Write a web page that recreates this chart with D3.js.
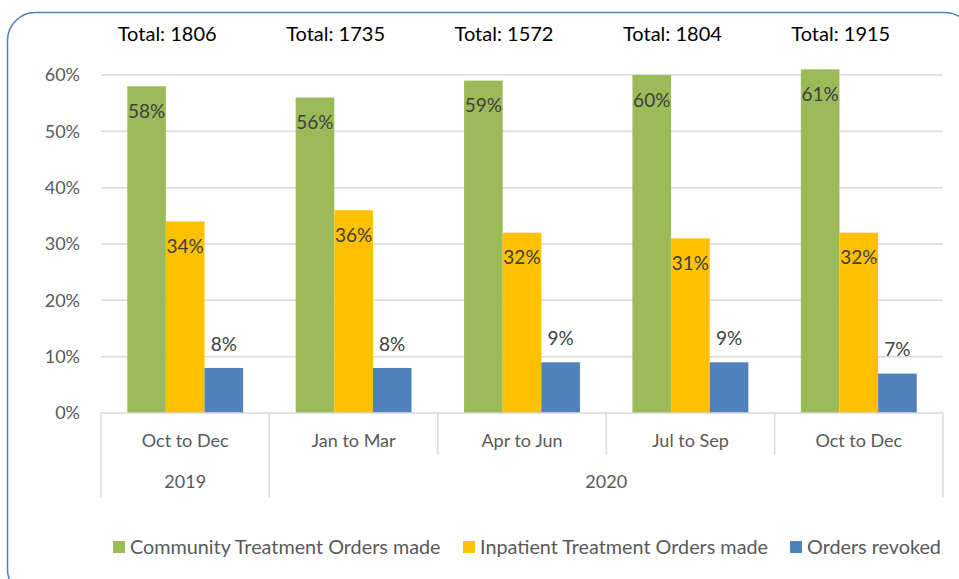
<!DOCTYPE html>
<html>
<head>
<meta charset="utf-8">
<script src="https://cdn.jsdelivr.net/npm/d3@7"></script>
<style>
    body { margin: 0; background: #fff; }
    svg text { font-family: Lato, "Open Sans", sans-serif; }
</style>
</head>
<body>
<div id="chart"></div>
<script>
// quarters and the year each belongs to
let quarters = ["Oct to Dec", "Jan to Mar", "Apr to Jun", "Jul to Sep", "Oct to Dec"];
let years = ["2019", "2020", "2020", "2020", "2020"];
let totals = [1806, 1735, 1572, 1804, 1915];

// series values (fractions)
let seriesNames = ["Community Treatment Orders made", "Inpatient Treatment Orders made", "Orders revoked"];
let community = [0.58, 0.56, 0.59, 0.60, 0.61];
let inpatient = [0.34, 0.36, 0.32, 0.31, 0.32];
let revoked = [0.08, 0.08, 0.09, 0.09, 0.07];
let colors = ["#9BBB59", "#FFC000", "#4F81BD"];

let yTicks = [0, 0.1, 0.2, 0.3, 0.4, 0.5, 0.6];

let width = 959, height = 579;
let margin = {top: 75, left: 101, right: 16, bottom: 166};

let svg = d3.select('#chart').append('svg')
    .attr('width', width)
    .attr('height', height);

// chart frame with rounded corners (cropped on the right and bottom)
svg.append('rect')
    .attr('x', 7.5).attr('y', 12.5)
    .attr('width', 965).attr('height', 585)
    .attr('rx', 28)
    .attr('fill', 'none')
    .attr('stroke', '#4F81BD')
    .attr('stroke-width', 1.5);

let x0 = d3.scaleBand()
    .domain(d3.range(quarters.length))
    .range([margin.left, width - margin.right]);

let x1 = d3.scaleBand()
    .domain(d3.range(3))
    .range([0, x0.bandwidth()])
    .paddingInner(0)
    .paddingOuter(0.68);

let y = d3.scaleLinear()
    .domain([0, 0.6])
    .range([height - margin.bottom, margin.top]);

// gridlines
svg.append('g').selectAll('line')
    .data(yTicks.slice(1))
    .join('line')
    .attr('x1', x0.range()[0]).attr('x2', x0.range()[1])
    .attr('y1', d => y(d)).attr('y2', d => y(d))
    .attr('stroke', '#d9d9d9').attr('stroke-width', 1.5);

// y axis labels
svg.append('g').selectAll('text')
    .data(yTicks)
    .join('text')
    .attr('x', 80)
    .attr('y', d => y(d))
    .attr('dy', '0.35em')
    .attr('text-anchor', 'end')
    .attr('fill', '#595959')
    .style('font-size', '18px')
    .text(d => d3.format('.0%')(d));

// bars
let series = [community, inpatient, revoked];
let groups = svg.append('g').selectAll('g')
    .data(quarters.map((q, i) => i))
    .join('g')
    .attr('transform', i => `translate(${x0(i)},0)`);

groups.selectAll('rect')
    .data(i => series.map((s, k) => ({k: k, v: s[i]})))
    .join('rect')
    .attr('x', d => x1(d.k))
    .attr('width', x1.bandwidth())
    .attr('y', d => y(d.v))
    .attr('height', d => y(0) - y(d.v))
    .attr('fill', d => colors[d.k]);

// data labels: inside end for first two, outside end for revoked
groups.selectAll('text.lbl')
    .data(i => series.map((s, k) => ({k: k, v: s[i]})))
    .join('text')
    .classed('lbl', true)
    .attr('x', d => x1(d.k) + x1.bandwidth() / 2)
    .attr('y', d => d.k < 2 ? y(d.v) + 25 : y(d.v) - 24)
    .attr('dy', '0.35em')
    .attr('text-anchor', 'middle')
    .attr('fill', '#404040')
    .style('font-size', '19px')
    .text(d => d3.format('.0%')(d.v));

// totals above each group
svg.append('g').selectAll('text')
    .data(totals)
    .join('text')
    .attr('x', (d, i) => x0(i) + x0.bandwidth() / 2 - 18)
    .attr('y', 34)
    .attr('dy', '0.35em')
    .attr('text-anchor', 'middle')
    .attr('fill', '#000')
    .style('font-size', '20px')
    .text(d => 'Total: ' + d);

// category axis
let axis = svg.append('g');
let base = y(0);
axis.append('line')
    .attr('x1', x0.range()[0]).attr('x2', x0.range()[1])
    .attr('y1', base).attr('y2', base)
    .attr('stroke', '#d9d9d9').attr('stroke-width', 1.5);

// separators: long ones at year boundaries, short ones between quarters
let edges = d3.range(quarters.length + 1).map(i => i < quarters.length ? x0(i) : x0.range()[1]);
axis.selectAll('line.sep')
    .data(edges)
    .join('line')
    .classed('sep', true)
    .attr('x1', d => d).attr('x2', d => d)
    .attr('y1', base)
    .attr('y2', (d, i) => (i == 0 || i == quarters.length || years[i] != years[i - 1]) ? 497 : 455)
    .attr('stroke', '#d9d9d9').attr('stroke-width', 1.5);

axis.selectAll('text.q')
    .data(quarters)
    .join('text')
    .classed('q', true)
    .attr('x', (d, i) => x0(i) + x0.bandwidth() / 2)
    .attr('y', 441)
    .attr('dy', '0.35em')
    .attr('text-anchor', 'middle')
    .attr('fill', '#595959')
    .style('font-size', '18px')
    .text(d => d);

// year labels centred across their quarters
let yearList = Array.from(new Set(years));
axis.selectAll('text.yr')
    .data(yearList)
    .join('text')
    .classed('yr', true)
    .attr('x', yr => {
        let idx = years.map((v, i) => v == yr ? i : -1).filter(i => i >= 0);
        return (x0(idx[0]) + x0(idx[idx.length - 1]) + x0.bandwidth()) / 2;
    })
    .attr('y', 482)
    .attr('dy', '0.35em')
    .attr('text-anchor', 'middle')
    .attr('fill', '#595959')
    .style('font-size', '18px')
    .text(d => d);

// legend
let legendX = [113, 463, 790];
let legend = svg.append('g').selectAll('g')
    .data(seriesNames)
    .join('g')
    .attr('transform', (d, i) => `translate(${legendX[i]},541)`);
legend.append('rect')
    .attr('width', 12).attr('height', 12)
    .attr('fill', (d, i) => colors[i]);
legend.append('text')
    .attr('x', 17).attr('y', 6)
    .attr('dy', '0.35em')
    .attr('fill', '#595959')
    .style('font-size', '19.8px')
    .text(d => d);
</script>
</body>
</html>
